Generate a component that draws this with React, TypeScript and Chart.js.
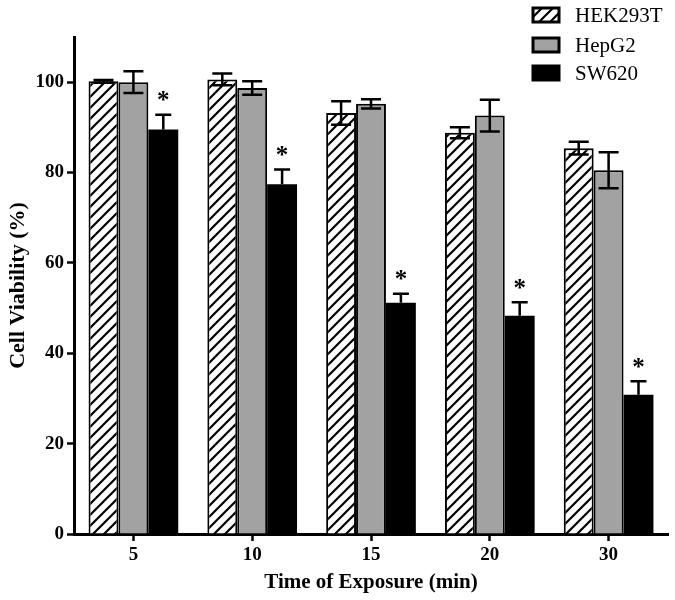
import React, { useEffect, useRef } from "react";
import { Chart, registerables } from "chart.js";

Chart.register(...registerables);

const categories = ["5", "10", "15", "20", "30"];
const seriesNames = ["HEK293T", "HepG2", "SW620"];
const hek = [100.2, 100.6, 93.2, 88.8, 85.4];
const hekErr = [0.3, 1.3, 2.6, 1.2, 1.4];
const hepg2 = [100.0, 98.7, 95.2, 92.6, 80.5];
const hepg2Err = [2.4, 1.5, 1.0, 3.5, 4.0];
const sw620 = [89.5, 77.4, 51.2, 48.3, 30.8];
const sw620Err = [3.3, 3.3, 2.0, 3.0, 3.0];
const sw620Significant = [true, true, true, true, true];
const yTicks = [0, 20, 40, 60, 80, 100];

const FONT = '"Liberation Serif", "Times New Roman", serif';
const GRAY = "#a2a2a2";

function makeHatch(ctx: CanvasRenderingContext2D): CanvasPattern | string {
  const s = 11;
  const c = document.createElement("canvas");
  c.width = s;
  c.height = s;
  const g = c.getContext("2d");
  if (!g) return "#fff";
  g.fillStyle = "#fff";
  g.fillRect(0, 0, s, s);
  g.strokeStyle = "#000";
  g.lineWidth = 2.2;
  g.beginPath();
  g.moveTo(-2, s + 2);
  g.lineTo(s + 2, -2);
  g.moveTo(-2, 2);
  g.lineTo(2, -2);
  g.moveTo(s - 2, s + 2);
  g.lineTo(s + 2, s - 2);
  g.stroke();
  return ctx.createPattern(c, "repeat") || "#fff";
}

const errs = [hekErr, hepg2Err, sw620Err];

const errorBarPlugin = {
  id: "errorBars",
  afterDatasetsDraw(chart: any) {
    const ctx = chart.ctx;
    const y = chart.scales.y;
    ctx.save();
    ctx.strokeStyle = "#000";
    ctx.lineWidth = 2.5;
    chart.data.datasets.forEach((ds: any, i: number) => {
      const meta = chart.getDatasetMeta(i);
      meta.data.forEach((el: any, j: number) => {
        const v = ds.data[j];
        const e = errs[i][j];
        const x = el.x;
        const top = y.getPixelForValue(v + e);
        const bot = i === 2 ? y.getPixelForValue(v) : y.getPixelForValue(v - e);
        const half = i === 2 ? 8 : 10;
        ctx.beginPath();
        ctx.moveTo(x, top);
        ctx.lineTo(x, bot);
        ctx.moveTo(x - half, top);
        ctx.lineTo(x + half, top);
        if (i !== 2) {
          ctx.moveTo(x - half, bot);
          ctx.lineTo(x + half, bot);
        }
        ctx.stroke();
        if (i === 2 && sw620Significant[j]) {
          ctx.fillStyle = "#000";
          ctx.font = `bold 25px ${FONT}`;
          ctx.textAlign = "center";
          ctx.textBaseline = "middle";
          ctx.fillText("*", x, top - 13);
        }
      });
    });
    ctx.restore();
  },
};

const decorPlugin = {
  id: "decor",
  afterDraw(chart: any) {
    const ctx = chart.ctx;
    const area = chart.chartArea;
    ctx.save();
    ctx.fillStyle = "#000";
    ctx.font = `bold 21px ${FONT}`;
    ctx.textAlign = "center";
    ctx.textBaseline = "middle";
    ctx.fillText("Time of Exposure (min)", (area.left + area.right) / 2, 583);
    ctx.save();
    ctx.font = `bold 22px ${FONT}`;
    ctx.translate(18, (area.top + area.bottom) / 2);
    ctx.rotate(-Math.PI / 2);
    ctx.fillText("Cell Viability (%)", 0, 0);
    ctx.restore();

    // legend
    const fills = [makeHatch(ctx), GRAY, "#000"];
    const rows = [15, 45, 73];
    ctx.font = `21px ${FONT}`;
    ctx.textAlign = "left";
    seriesNames.forEach((name, i) => {
      const cy = rows[i];
      const bx = 533;
      const bw = 26;
      const bh = 14;
      ctx.fillStyle = fills[i] as any;
      ctx.fillRect(bx, cy - bh / 2, bw, bh);
      ctx.strokeStyle = "#000";
      ctx.lineWidth = 3;
      ctx.strokeRect(bx, cy - bh / 2, bw, bh);
      ctx.fillStyle = "#000";
      ctx.fillText(name, 575, cy + 1);
    });
    ctx.restore();
  },
};

export default function App() {
  const ref = useRef<HTMLCanvasElement>(null);
  useEffect(() => {
    const canvas = ref.current;
    if (!canvas) return;
    const ctx = canvas.getContext("2d") as CanvasRenderingContext2D;
    const hatch = makeHatch(ctx);
    const chart = new Chart(ctx, {
      type: "bar",
      data: {
        labels: categories,
        datasets: [
          { label: seriesNames[0], data: hek, backgroundColor: hatch as any, borderColor: "#000", borderWidth: 2 },
          { label: seriesNames[1], data: hepg2, backgroundColor: GRAY, borderColor: "#000", borderWidth: 2 },
          { label: seriesNames[2], data: sw620, backgroundColor: "#000", borderColor: "#000", borderWidth: 0 },
        ],
      },
      options: {
        responsive: false,
        animation: false,
        layout: { padding: { top: 37, right: 7, left: 0, bottom: 0 } },
        plugins: { legend: { display: false }, tooltip: { enabled: false } },
        datasets: { bar: { barPercentage: 1, categoryPercentage: 0.755 } },
        scales: {
          x: {
            type: "category",
            offset: true,
            grid: { display: true, offset: false, drawOnChartArea: false, drawTicks: true, tickLength: 7, tickWidth: 2.5, tickColor: "#000" },
            border: { display: true, color: "#000", width: 3 },
            ticks: { color: "#000", font: { family: FONT, size: 19, weight: "bold" }, padding: 3, maxRotation: 0 },
            afterFit: (s: any) => { s.height = 66; },
          },
          y: {
            min: 0,
            max: 110,
            grid: { display: true, drawOnChartArea: false, drawTicks: true, tickLength: 7, tickWidth: 2.5, tickColor: "#000" },
            border: { display: true, color: "#000", width: 3 },
            ticks: { color: "#000", font: { family: FONT, size: 19, weight: "bold" }, padding: 3, stepSize: 20 },
            afterBuildTicks: (s: any) => { s.ticks = yTicks.map((v) => ({ value: v })); },
            afterFit: (s: any) => { s.width = 74; },
          },
        },
      } as any,
      plugins: [errorBarPlugin, decorPlugin],
    });
    return () => chart.destroy();
  }, []);
  return (
    <div style={{ position: "fixed", left: 0, top: 0, width: 675, height: 600, background: "#fff" }}>
      <canvas ref={ref} width={675} height={600} />
    </div>
  );
}
